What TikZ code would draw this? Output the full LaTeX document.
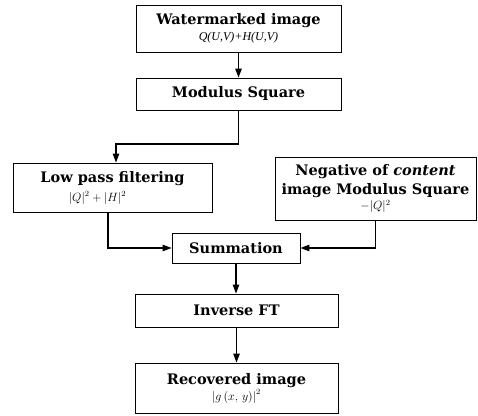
\documentclass[tikz,border=0pt]{standalone}
\usepackage{fontspec}
\setmainfont{DejaVu Serif}
\newfontfamily\fmlfont{Liberation Serif}
\usetikzlibrary{arrows.meta}
\tikzset{
  box/.style={draw, line width=0.9pt, align=center, inner sep=0pt,
    font=\bfseries\fontsize{14.5}{17}\selectfont},
  conn/.style={line width=1.2pt, -{Triangle[length=9pt,width=6.5pt]}},
}
\newcommand{\fm}[1]{{\mdseries\fontsize{11.5}{13}\selectfont #1}}
\newcommand{\fmt}[1]{{\fmlfont\mdseries\itshape\fontsize{12}{13}\selectfont #1}}
\begin{document}
\begin{tikzpicture}[x=1pt,y=1pt]
\useasboundingbox (0,0) rectangle (478,415);
\node[box, minimum width=205pt, minimum height=47pt] (wm) at (238.5,386.5)
  {Watermarked image\\[-1pt]\fmt{Q(U,V)+H(U,V)}};
\node[box, minimum width=205pt, minimum height=32pt] (mod) at (238.5,321)
  {Modulus Square};
\node[box, minimum width=199pt, minimum height=49pt] (lp) at (112.5,227.5)
  {Low pass filtering\\[2pt]\fm{$|Q|^2+|H|^2$}\hspace*{30pt}};
\node[box, minimum width=201pt, minimum height=63pt] (neg) at (375.5,226.5)
  {Negative of \textit{content}\\[2pt]image Modulus Square\\[-2pt]\fm{$-|Q|^2$}};
\node[box, minimum width=128pt, minimum height=30pt] (sum) at (236,167)
  {Summation};
\node[box, minimum width=203pt, minimum height=33pt] (inv) at (236.5,104.5)
  {Inverse FT};
\node[box, minimum width=203pt, minimum height=50pt] (rec) at (236.5,27)
  {Recovered image\\[-1pt]\fm{$\left|g\,(x,\,y)\right|^2$}};
\coordinate (c1) at (116,271);
\coordinate (c2) at (108,0);
\draw[conn] (wm.south) -- (mod.north);
\draw[conn] (mod.south) |- (c1) -- (c1 |- lp.north);
\draw[conn] (lp.south -| c2) |- (sum.west);
\draw[conn] (neg.south) |- (sum.east);
\draw[conn] (sum.south) -- (sum.south |- inv.north);
\draw[conn] (inv.south) -- (inv.south |- rec.north);
\end{tikzpicture}
\end{document}
